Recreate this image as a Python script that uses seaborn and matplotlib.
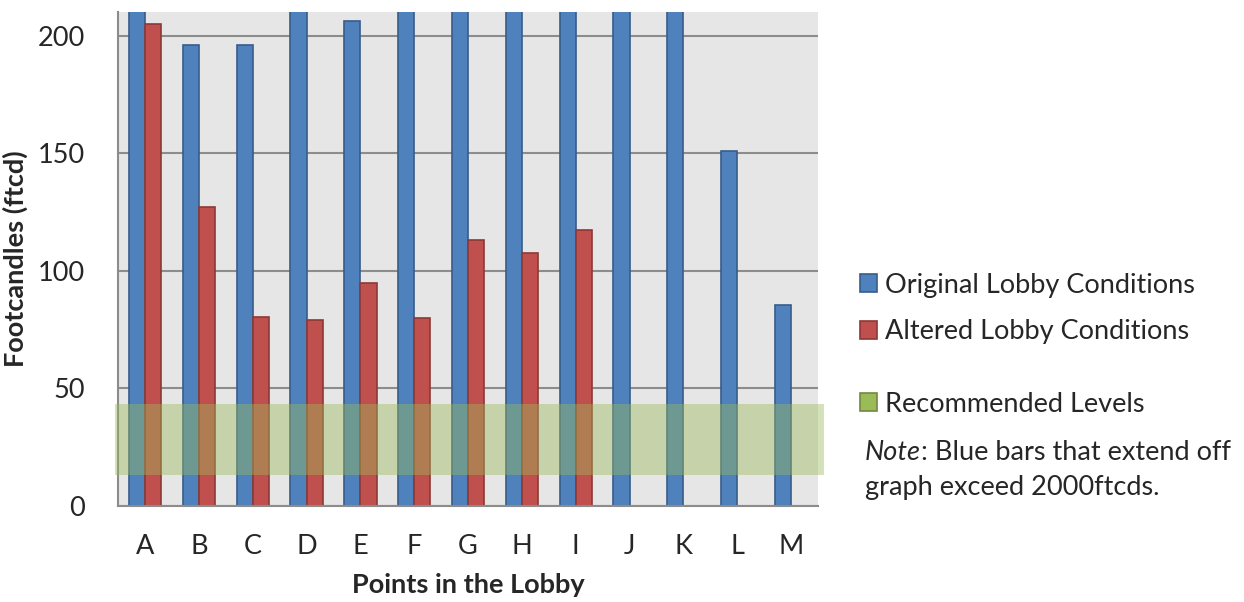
import numpy as np
import pandas as pd
import seaborn as sns
import matplotlib.pyplot as plt
from matplotlib.patches import Patch, Rectangle
from matplotlib.ticker import MultipleLocator

# Measurement points and illuminance readings (footcandles)
points = ["A", "B", "C", "D", "E", "F", "G", "H", "I", "J", "K", "L", "M"]
original = [2100, 196, 196, 2100, 206, 2100, 2100, 2100, 2100, 2100, 2100, 151, 85.5]
altered = [205, 127, 80.5, 79, 95, 80, 113, 107.5, 117.5, np.nan, np.nan, np.nan, np.nan]
recommended_range = (13, 43.5)

series_names = ["Original Lobby Conditions", "Altered Lobby Conditions"]
band_name = "Recommended Levels"
fill_colors = ["#4F81BD", "#C0504D"]
edge_colors = ["#385D8A", "#8C3836"]
band_color, band_edge = "#9BBB59", "#71893F"

df = pd.DataFrame({
    "Point": points * 2,
    "Footcandles": original + altered,
    "Condition": [series_names[0]] * len(points) + [series_names[1]] * len(points),
})

sns.set_style("white")
plt.rcParams["font.family"] = ["Lato", "DejaVu Sans"]
FS = 19.5

fig = plt.figure(figsize=(12.44, 6.02), dpi=100)
ax = fig.add_axes([0.0949, 0.1595, 0.5627, 0.8206])
ax.set_facecolor("#E6E6E6")

sns.barplot(data=df, x="Point", y="Footcandles", hue="Condition",
            hue_order=series_names, palette=fill_colors, width=0.6,
            linewidth=1.2, saturation=1, legend=False, ax=ax, zorder=2)

# dark outline per series
for container, ec in zip(ax.containers, edge_colors):
    for bar in container:
        bar.set_edgecolor(ec)

ax.set_ylim(0, 210)
ax.set_xlim(-0.5, len(points) - 0.5)

# gridlines
ax.yaxis.set_major_locator(MultipleLocator(50))
ax.yaxis.set_minor_locator(MultipleLocator(5))
ax.grid(axis="y", which="major", color="#8C8C8C", linewidth=1.5, zorder=1)
ax.set_axisbelow(True)

for side in ["top", "right"]:
    ax.spines[side].set_visible(False)
for side in ["left", "bottom"]:
    ax.spines[side].set_color("#8C8C8C")
    ax.spines[side].set_linewidth(1.5)

ax.tick_params(axis="y", which="major", direction="out", length=10, width=1.5,
               color="#8C8C8C", labelsize=FS, pad=14)
ax.tick_params(axis="y", which="minor", direction="in", length=7, width=1.5,
               color="#8C8C8C")
ax.tick_params(axis="x", which="both", length=0, labelsize=FS, pad=20)

ax.set_xlabel("Points in the Lobby", fontsize=FS, fontweight="bold")
ax.set_ylabel("Footcandles (ftcd)", fontsize=FS, fontweight="bold")
ax.xaxis.set_label_coords(0.5, -0.135)
ax.yaxis.set_label_coords(-0.128, 0.5)

# recommended band over the bars, reaching slightly past the plot area
band = Rectangle((-0.005, recommended_range[0]), 1.014,
                 recommended_range[1] - recommended_range[0],
                 transform=ax.get_yaxis_transform(), facecolor=band_color,
                 alpha=0.42, edgecolor="none", zorder=5, clip_on=False)
ax.add_patch(band)

# legend entries, one per row
entries = [
    (Patch(facecolor=fill_colors[0], edgecolor=edge_colors[0], linewidth=1.2), series_names[0], 1 - 285 / 602),
    (Patch(facecolor=fill_colors[1], edgecolor=edge_colors[1], linewidth=1.2), series_names[1], 1 - 332 / 602),
    (Patch(facecolor=band_color, edgecolor=band_edge, linewidth=1.2), band_name, 1 - 404 / 602),
]
for handle, label, yc in entries:
    fig.legend([handle], [label], loc="center left", bbox_to_anchor=(0.6915, yc),
               frameon=False, fontsize=FS, handlelength=0.62, handleheight=0.62,
               handletextpad=0.3, borderaxespad=0, borderpad=0)

# footnote: italic "Note" followed by the regular text
note = fig.text(865 / 1244, 1 - 452 / 602, "Note", fontsize=FS, fontstyle="italic",
                va="center", ha="left")
ax.annotate(": Blue bars that extend off", xy=(1, 0.5), xycoords=note,
            fontsize=FS, va="center", ha="left", annotation_clip=False)
fig.text(865 / 1244, 1 - 487 / 602, "graph exceed 2000ftcds.", fontsize=FS,
         va="center", ha="left")

fig.savefig("out.png", dpi=100)
